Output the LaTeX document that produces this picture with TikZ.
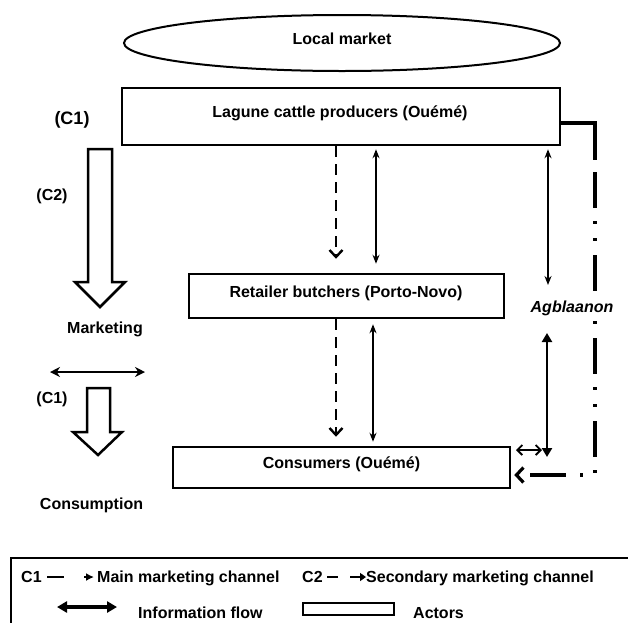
\documentclass[tikz,border=0pt]{standalone}
\usepackage{fontspec}
\setmainfont{Liberation Sans}
\usetikzlibrary{arrows.meta,shapes.geometric}
\begin{document}
\begin{tikzpicture}[x=1pt,y=-1pt,
  every node/.style={font=\bfseries\fontsize{16}{19}\selectfont, inner sep=0pt},
  actor/.style={draw, line width=2.5pt, rectangle, inner sep=0pt},
  flowdash/.style={line width=2.4pt, dash pattern=on 11pt off 7pt, -{Straight Barb[length=7pt,width=13pt]}},
  info/.style={line width=1.5pt, {Stealth[length=9pt,width=7pt]}-{Stealth[length=9pt,width=7pt]}},
  infothick/.style={line width=2.8pt, {Triangle[length=9pt,width=10pt]}-{Triangle[length=9pt,width=10pt]}},
  infoopen/.style={line width=1.8pt, {Straight Barb[length=5pt,width=10pt]}-{Straight Barb[length=5pt,width=10pt]}},
  hollow/.style={draw, line width=2.5pt, fill=white, line join=miter},
  dashdot/.style={line width=3.2pt, dash pattern=on 36pt off 13pt on 3pt off 14pt on 3pt off 14pt, -{Straight Barb[length=7pt,width=15pt]}},
  ]
\useasboundingbox (0,0) rectangle (628,622);

% ---- market ellipse
\node[draw, ellipse, line width=2pt, minimum width=436pt, minimum height=56pt] (mkt) at (342,43) {};
\node[anchor=base] (mkttxt) at (342,44) {Local market};

% ---- actors
\node[actor, minimum width=438pt, minimum height=57pt] (prod) at (341,116.5) {};
\node[anchor=base] (prodtxt) at (340,117) {Lagune cattle producers (Ouémé)};
\node[actor, minimum width=315pt, minimum height=44pt] (ret) at (346.5,296) {};
\node[anchor=base] (rettxt) at (346,297) {Retailer butchers (Porto-Novo)};
\node[actor, minimum width=337pt, minimum height=41pt] (cons) at (341.5,467.5) {};
\node[anchor=base] (constxt) at (341.5,468) {Consumers (Ouémé)};

% x positions
\coordinate (xa) at (336,0);
\coordinate (xb) at (376,0);
\coordinate (xc) at (373,0);
\coordinate (xd) at (548,0);
\coordinate (ya) at (0,123);
\coordinate (yb) at (0,475);
\coordinate (cA) at (595,123);
\coordinate (cB) at (595,475);
\coordinate (cC) at (595,160);
\coordinate (agbtop) at (548,285);
\coordinate (agbbot) at (547,333);
\coordinate (lowend) at (547,457);
\coordinate (hA) at (516,450);
\coordinate (hB) at (542,450);

% ---- vertical flows
\draw[flowdash, shorten >=14pt] (prod.south -| xa) -- (ret.north -| xa);
\draw[info, shorten <=3pt, shorten >=9pt] (prod.south -| xb) -- (ret.north -| xb);
\draw[flowdash, shorten >=9pt] (ret.south -| xa) -- (cons.north -| xa);
\draw[info, shorten <=5pt, shorten >=4pt] (ret.south -| xc) -- (cons.north -| xc);
\draw[info, shorten <=3pt] (prod.south -| xd) -- (agbtop);
\draw[infothick] (agbbot) -- (lowend);
\draw[infoopen] (hA) -- (hB);

% ---- dash-dot channel
\draw[dashdot] (prod.east |- ya) -- (cA) -- (cB) -- ([xshift=3pt]cons.east |- yb);
\draw[line width=3.2pt] (prod.east |- ya) -- (cA) -- (cC);
\node[anchor=base, fill=white, inner xsep=2pt, inner ysep=3pt, font=\bfseries\itshape\fontsize{16}{19}\selectfont] (agb) at (572,312) {Agblaanon};

% ---- left side
\node[anchor=base, font=\bfseries\fontsize{18}{21}\selectfont] (c1a) at (72,124) {(C1)};
\draw[hollow] (88,149) -- (112,149) -- (112,282) -- (125,282) -- (100,307) -- (75,282) -- (88,282) -- cycle;
\node[anchor=base] (c2) at (52,200) {(C2)};
\node[anchor=base] (mktg) at (105,333) {Marketing};
\coordinate (hl) at (50,372);
\coordinate (hr) at (145,372);
\draw[line width=2.2pt, {Stealth[length=10pt,width=10pt]}-{Stealth[length=10pt,width=10pt]}] (hl) -- (hr);
\node[anchor=base] (c1b) at (52,403) {(C1)};
\draw[hollow] (87,388) -- (110,388) -- (110,432) -- (122,432) -- (98,455) -- (73,432) -- (87,432) -- cycle;
\node[anchor=base] (cons2) at (91.5,509) {Consumption};

% ---- legend
\draw[line width=2.2pt] (11,625) -- (11,558) -- (630,558);
\node[anchor=base west] (lc1) at (21,582) {C1};
\coordinate (l1a) at (47,577);
\coordinate (l1b) at (64,577);
\coordinate (l1c) at (84,577);
\coordinate (l1d) at (94,577);
\draw[line width=2.2pt] (l1a) -- (l1b);
\draw[line width=2.2pt, -{Latex[length=8pt,width=8pt]}] (l1c) -- (l1d);
\node[anchor=base west] (lmain) at (97,582) {Main marketing channel};
\node[anchor=base west] (lc2) at (302,582) {C2};
\coordinate (l2a) at (327,577);
\coordinate (l2b) at (338,577);
\coordinate (l2c) at (350,577);
\coordinate (l2d) at (366,577);
\draw[line width=2.4pt] (l2a) -- (l2b);
\draw[line width=2.4pt, -{Triangle[length=6pt,width=8pt]}] (l2c) -- (l2d);
\node[anchor=base west] (lsec) at (366,582) {Secondary marketing channel};
\coordinate (l3a) at (57,607);
\coordinate (l3b) at (117,607);
\draw[line width=3.8pt, {Triangle[length=10pt,width=11pt]}-{Triangle[length=10pt,width=11pt]}] (l3a) -- (l3b);
\node[anchor=base west] (linfo) at (138,618) {Information flow};
\node[draw, line width=2.2pt, minimum width=91pt, minimum height=12pt] (lrect) at (348.5,609) {};
\node[anchor=base west] (lact) at (413,618) {Actors};
\end{tikzpicture}
\end{document}
